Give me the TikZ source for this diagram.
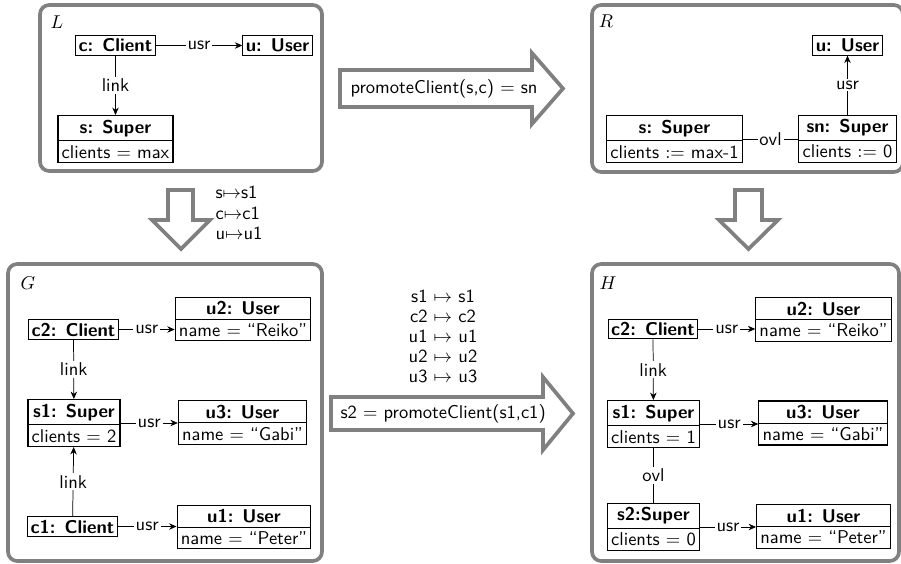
\documentclass[tikz,border=0pt]{standalone}
\usepackage{amsmath}
\usetikzlibrary{arrows.meta}
\usetikzlibrary{shapes.multipart}

\tikzset{
  frame/.style={draw=gray,line width=2pt,rounded corners=5pt},
  bigarrow/.style={draw=gray,line width=2pt,fill=white},
  obj/.style={draw,line width=0.6pt,inner sep=1.6pt},
  objattr/.style={draw,line width=0.6pt,inner sep=2pt,rectangle split,rectangle split parts=2},
  lbl/.style={fill=white,inner sep=1pt},
  maplist/.style={align=left,font=\sffamily\fontsize{10}{11}\selectfont}
}

\begin{document}
\begin{tikzpicture}[x=0.54pt,y=-0.54pt,font=\sffamily]
        \useasboundingbox (0,0) rectangle (901,564);
        % graph frames
        \draw[frame] (40,5) rectangle (322,171);
        \draw[frame] (592,5) rectangle (903,172);
        \draw[frame] (8,264) rectangle (322,561);
        \draw[frame] (592,264) rectangle (899,561);
        \node (nameL) at (57,22) {$L$};
        \node (nameR) at (606,21) {$R$};
        \node (nameG) at (28,283) {$G$};
        \node (nameH) at (608,283) {$H$};
        % big arrows
        \draw[bigarrow] (340,70) -- (532,70) -- (532,53) -- (563,88.5) -- (532,124) -- (532,107) -- (340,107) -- cycle;
        \draw[bigarrow] (331,397) -- (543,397) -- (543,377) -- (573,413.5) -- (543,450) -- (543,430) -- (331,430) -- cycle;
        \draw[bigarrow] (168,190) -- (193,190) -- (193,220) -- (210,220) -- (181,249) -- (152,220) -- (168,220) -- cycle;
        \draw[bigarrow] (735,190) -- (762,190) -- (762,220) -- (778,220) -- (748.5,249) -- (719,220) -- (735,220) -- cycle;
        \node[anchor=west] (rule) at (344,88.5) {promoteClient(s,c) $=$ sn};
        \node[anchor=west] (call) at (334,413.5) {s2 $=$ promoteClient(s1,c1)};
        \node[maplist,anchor=west] (match) at (209,213) {s$\mapsto$s1\\c$\mapsto$c1\\u$\mapsto$u1};
        \node[maplist,align=center,font=\sffamily\fontsize{10}{10.8}\selectfont] (trace) at (443,336) {s1 $\mapsto$ s1\\c2 $\mapsto$ c2\\u1 $\mapsto$ u1\\u2 $\mapsto$ u2\\u3 $\mapsto$ u3};
        % L
        \node[obj] (lc) at (115.5,45.5) {\textbf{c: Client}};
        \node[obj] (lu) at (277.5,45.5) {\textbf{u: User}};
        \node[objattr] (ls) at (115.5,139) {\textbf{s: Super}\nodepart{two}clients $=$ max};
        % R
        \node[obj] (ru) at (847.5,45.5) {\textbf{u: User}};
        \node[objattr] (rs) at (674.5,139) {\textbf{s: Super}\nodepart{two}clients $:=$ max-1};
        \node[objattr] (rsn) at (847.5,139) {\textbf{sn: Super}\nodepart{two}clients $:=$ 0};
        % G
        \node[obj] (gc2) at (73.5,329.5) {\textbf{c2: Client}};
        \node[objattr] (gu2) at (243,319) {\textbf{u2: User}\nodepart{two}name $=$ ``Reiko''};
        \node[objattr] (gs1) at (74,423) {\textbf{s1: Super}\nodepart{two}clients $=$ 2};
        \node[objattr] (gu3) at (242.5,422.5) {\textbf{u3: User}\nodepart{two}name $=$ ``Gabi''};
        \node[obj] (gc1) at (72.5,526.5) {\textbf{c1: Client}};
        \node[objattr] (gu1) at (244,527) {\textbf{u1: User}\nodepart{two}name $=$ ``Peter''};
        % H
        \node[obj] (hc2) at (653,329) {\textbf{c2: Client}};
        \node[objattr] (hu2) at (823.5,319.5) {\textbf{u2: User}\nodepart{two}name $=$ ``Reiko''};
        \node[objattr] (hs1) at (653.5,424) {\textbf{s1: Super}\nodepart{two}clients $=$ 1};
        \node[objattr] (hu3) at (823,423) {\textbf{u3: User}\nodepart{two}name $=$ ``Gabi''};
        \node[objattr] (hs2) at (653.5,527) {\textbf{s2:Super}\nodepart{two}clients $=$ 0};
        \node[objattr] (hu1) at (823.5,526.5) {\textbf{u1: User}\nodepart{two}name $=$ ``Peter''};
        \begin{scope}[every edge/.style={draw=black,-{Stealth[length=4pt,width=3.5pt]}}]
        \path (lc) edge node[lbl] {usr} (lu);
        \path (lc) edge node[lbl] {link} (ls);
        \path (rsn) edge node[lbl] {usr} (ru);
        \path (gc2.east) edge node[lbl] {usr} (gc2.east -| gu2.west);
        \path (gc2) edge node[lbl] {link} (gs1);
        \path (gs1.east) edge node[lbl] {usr} (gs1.east -| gu3.west);
        \path (gc1) edge node[lbl] {link} (gs1);
        \path (gc1.east) edge node[lbl] {usr} (gc1.east -| gu1.west);
        \path (hc2.east) edge node[lbl] {usr} (hc2.east -| hu2.west);
        \path (hc2) edge node[lbl] {link} (hs1);
        \path (hs1.east) edge node[lbl] {usr} (hs1.east -| hu3.west);
        \path (hs2.east) edge node[lbl] {usr} (hs2.east -| hu1.west);
        \end{scope}
        \begin{scope}[every edge/.style={draw=black}]
        \path (rs) edge node[lbl] {ovl} (rsn);
        \path (hs1) edge node[lbl] {ovl} (hs2);
        \end{scope}
\end{tikzpicture}
\end{document}
